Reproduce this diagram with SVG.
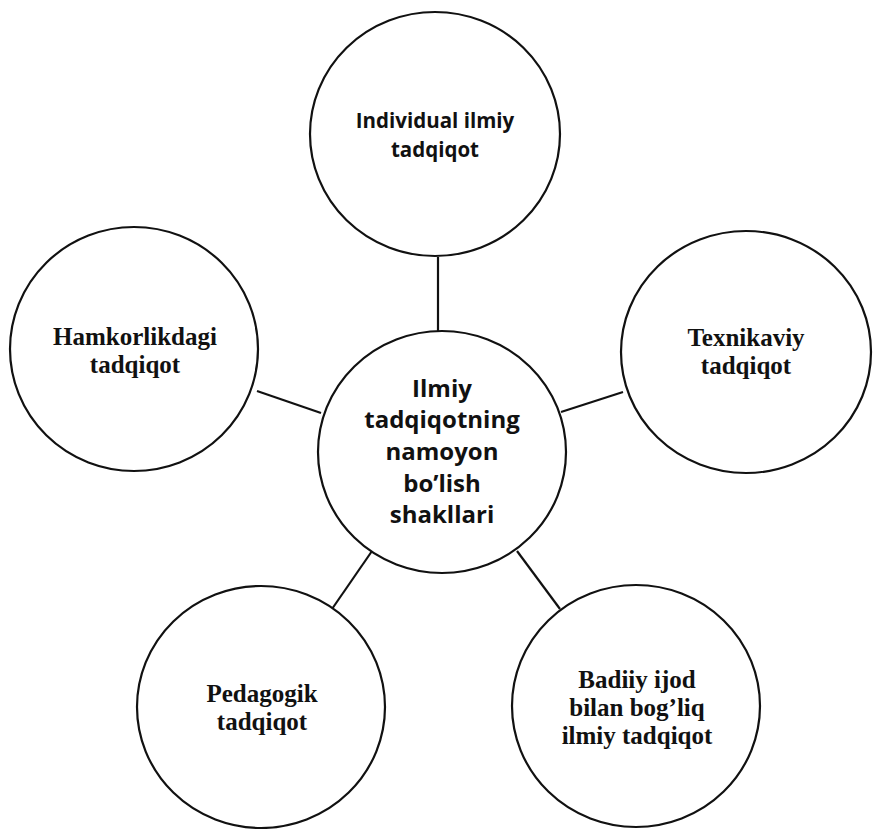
<svg xmlns="http://www.w3.org/2000/svg" width="874" height="829" viewBox="0 0 874 829">
<style>
.c{fill:#fff;stroke:#111;stroke-width:2.2}
.l{stroke:#111;stroke-width:2.2;fill:none}
.s{font-family:"Open Sans","DejaVu Sans",sans-serif;font-weight:bold;fill:#111;text-anchor:middle}
.r{font-family:"Liberation Serif","Times New Roman",serif;font-weight:bold;fill:#111;text-anchor:middle;font-size:25px}
</style>
<rect width="874" height="829" fill="#fff"/>
<g id="connectors">
<line class="l" x1="438" y1="257" x2="438" y2="331"/>
<line class="l" x1="257" y1="391" x2="321" y2="413"/>
<line class="l" x1="561" y1="412" x2="623" y2="392"/>
<line class="l" x1="332" y1="609" x2="372" y2="551"/>
<line class="l" x1="517" y1="551" x2="560" y2="609"/>
</g>
<g id="top">
<ellipse class="c" cx="435" cy="134" rx="125" ry="122"/>
<text class="s" font-size="20.5" x="435" y="128">Individual ilmiy</text>
<text class="s" font-size="20.5" x="435" y="157">tadqiqot</text>
</g>
<g id="left">
<ellipse class="c" cx="134" cy="349" rx="124" ry="122"/>
<text class="r" x="135" y="345">Hamkorlikdagi</text>
<text class="r" x="135" y="373">tadqiqot</text>
</g>
<g id="right">
<ellipse class="c" cx="746" cy="352" rx="125" ry="121"/>
<text class="r" x="746" y="346">Texnikaviy</text>
<text class="r" x="746" y="374">tadqiqot</text>
</g>
<g id="center">
<ellipse class="c" cx="442" cy="452" rx="124" ry="121"/>
<text class="s" font-size="24" x="442" y="397">Ilmiy</text>
<text class="s" font-size="24" x="442" y="428">tadqiqotning</text>
<text class="s" font-size="24" x="442" y="460">namoyon</text>
<text class="s" font-size="24" x="442" y="492">bo’lish</text>
<text class="s" font-size="24" x="442" y="523">shakllari</text>
</g>
<g id="bottom-left">
<ellipse class="c" cx="261" cy="707" rx="124" ry="121"/>
<text class="r" x="262" y="702">Pedagogik</text>
<text class="r" x="262" y="730">tadqiqot</text>
</g>
<g id="bottom-right">
<ellipse class="c" cx="636" cy="706" rx="124" ry="121"/>
<text class="r" x="637" y="688">Badiiy ijod</text>
<text class="r" x="637" y="716">bilan bog’liq</text>
<text class="r" x="637" y="744">ilmiy tadqiqot</text>
</g>
</svg>
